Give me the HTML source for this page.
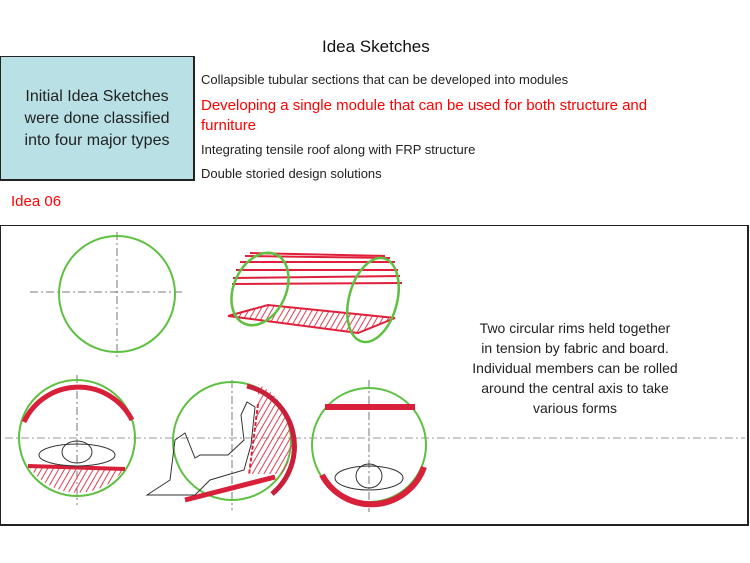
<!DOCTYPE html>
<html><head><meta charset="utf-8"><style>
body{margin:0;width:750px;height:563px;background:#fff;position:relative;overflow:hidden;font-family:"Liberation Sans",sans-serif;}
.t{position:absolute;white-space:nowrap;}
</style></head><body>
<div class="t" style="left:322px;top:37px;font-size:17px;color:#111;">Idea Sketches</div>
<div style="position:absolute;left:0;top:56px;width:192px;height:122px;background:#b9e0e4;border:1px solid #222;border-right-width:2px;border-bottom-width:2px;"></div>
<div class="t" style="left:0;width:194px;top:86px;text-align:center;font-size:16px;line-height:22px;color:#222;">Initial Idea Sketches<br>were done classified<br>into four major types</div>
<div class="t" style="left:201px;top:72px;font-size:13px;color:#222;">Collapsible tubular sections that can be developed into modules</div>
<div class="t" style="left:201px;top:96px;font-size:15px;line-height:20px;color:#f00;">Developing a single module that can be used for both structure and<br>furniture</div>
<div class="t" style="left:201px;top:142px;font-size:13px;color:#222;">Integrating tensile roof along with FRP structure</div>
<div class="t" style="left:201px;top:166px;font-size:13px;color:#222;">Double storied design solutions</div>
<div class="t" style="left:11px;top:193px;font-size:15px;color:#f00;">Idea 06</div>
<div style="position:absolute;left:0;top:225px;width:746px;height:298px;border:1px solid #222;border-right-width:2px;border-bottom-width:2px;"></div>
<div class="t" style="left:425px;width:300px;top:318px;text-align:center;font-size:14px;line-height:20px;color:#222;">Two circular rims held together<br>in tension by fabric and board.<br>Individual members can be rolled<br>around the central axis to take<br>various forms</div>
<svg style="position:absolute;left:0;top:0" width="750" height="563">
<defs><pattern id="h" width="5" height="5" patternUnits="userSpaceOnUse" patternTransform="rotate(30)"><line x1="0" y1="0" x2="0" y2="5" stroke="#e04050" stroke-width="2"/></pattern></defs>
<g stroke="#555" stroke-width="0.8" stroke-dasharray="8 3 2 3" fill="none">
<line x1="30" y1="292" x2="185" y2="292"/><line x1="117" y1="232" x2="117" y2="358"/>
<line x1="5" y1="438" x2="745" y2="438" stroke="#777"/>
<line x1="77" y1="375" x2="77" y2="505"/><line x1="232" y1="380" x2="232" y2="510"/><line x1="369" y1="380" x2="369" y2="512"/>
</g>
<circle cx="117" cy="294" r="58" fill="none" stroke="#5ec040" stroke-width="2"/>
<circle cx="77" cy="438" r="58" fill="none" stroke="#5ec040" stroke-width="2"/>
<circle cx="232" cy="441" r="59" fill="none" stroke="#5ec040" stroke-width="2"/>
<circle cx="369" cy="445" r="57" fill="none" stroke="#5ec040" stroke-width="2"/>
<!-- cylinder -->
<g stroke="#e0203a" stroke-width="2">
<line x1="240" y1="262" x2="395" y2="262"/><line x1="236" y1="270" x2="398" y2="270"/><line x1="233" y1="278" x2="400" y2="276"/>
<line x1="245" y1="256" x2="390" y2="258"/><line x1="232" y1="284" x2="402" y2="283"/><line x1="250" y1="253" x2="385" y2="256"/>
</g>
<polygon points="228,316 268,305 395,318 358,333" fill="url(#h)" stroke="#e0203a" stroke-width="2"/>
<ellipse cx="260" cy="289" rx="26" ry="38" transform="rotate(25 260 289)" fill="none" stroke="#5ec040" stroke-width="2.5"/>
<ellipse cx="373" cy="300" rx="24" ry="43" transform="rotate(15 373 300)" fill="none" stroke="#5ec040" stroke-width="2.5"/>
<!-- c1 -->
<path d="M24,422 A60,60 0 0 1 132,420" fill="none" stroke="#d8203a" stroke-width="5"/>
<path d="M28,467 L125,468 A58,58 0 0 1 30,468 Z" fill="url(#h)"/>
<line x1="28" y1="466" x2="125" y2="469" stroke="#d8203a" stroke-width="4"/>
<ellipse cx="77" cy="455" rx="38" ry="11" fill="none" stroke="#333"/>
<ellipse cx="77" cy="452" rx="15" ry="11" fill="none" stroke="#333"/>
<!-- c2 -->
<path d="M258,404 L249,474 L282,474 A62,62 0 0 0 258,384 Z" fill="url(#h)"/>
<path d="M247,386 A62,62 0 0 1 272,494" fill="none" stroke="#c8203a" stroke-width="5"/>
<line x1="185" y1="500" x2="275" y2="477" stroke="#d8203a" stroke-width="5"/>
<line x1="258" y1="404" x2="249" y2="475" stroke="#e0203a" stroke-width="2" stroke-dasharray="4 2"/>
<path d="M147,495 L170,480 L175,440 L185,433 L195,458 L200,455 L228,455 L244,440 L241,415 L247,402 L255,407 L251,445 L244,470 L210,480 L195,495 Z" fill="none" stroke="#333"/>
<!-- c3 -->
<line x1="325" y1="407" x2="415" y2="407" stroke="#d8203a" stroke-width="6"/>
<path d="M322,475 A56,56 0 0 0 424,467" fill="none" stroke="#d8203a" stroke-width="6"/>
<ellipse cx="369" cy="478" rx="34" ry="12" fill="none" stroke="#333"/>
<ellipse cx="369" cy="476" rx="13" ry="12" fill="none" stroke="#333"/>
</svg>
</body></html>
